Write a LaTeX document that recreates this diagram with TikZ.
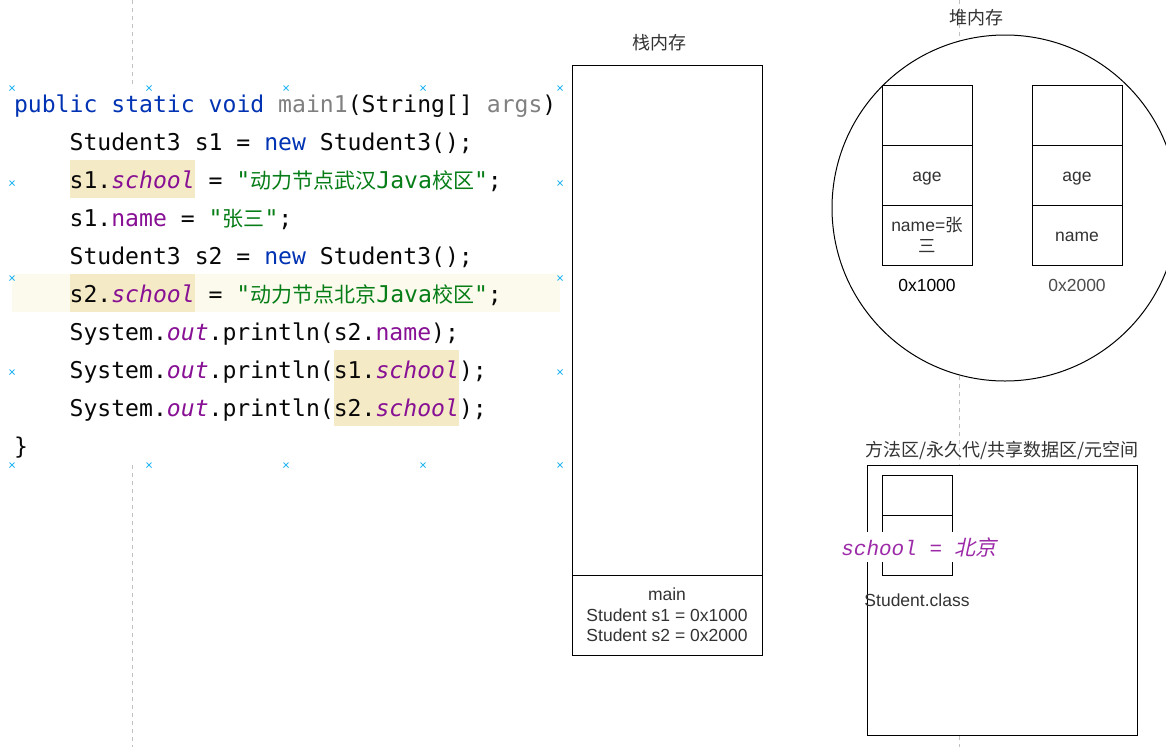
\documentclass[tikz,border=0pt]{standalone}
\usepackage{fontspec}
\setmainfont{Liberation Sans}
\newfontfamily\codef{DejaVu Sans Mono}
\newfontfamily\cjk{Noto Sans CJK SC}
\newfontfamily\cjki[FakeSlant=0.22]{Noto Sans CJK SC}
\newfontfamily\libsans{Liberation Sans}
\newfontfamily\libmono{Liberation Mono}
\definecolor{kwblue}{HTML}{0033B3}
\definecolor{fieldp}{HTML}{871094}
\definecolor{strg}{HTML}{067D17}
\definecolor{grayc}{HTML}{808080}
\definecolor{codeblk}{HTML}{080808}
\definecolor{hlword}{HTML}{F5EAC6}
\definecolor{hlline}{HTML}{FCFAEC}
\definecolor{handle}{HTML}{29B6F2}
\definecolor{guide}{HTML}{C0C0C0}
\definecolor{dtext}{HTML}{333333}
\definecolor{schoolp}{HTML}{9C2AA8}
\newcommand\ckw[1]{\textcolor{kwblue}{#1}}
\newcommand\cfld[1]{\textcolor{fieldp}{#1}}
\newcommand\cfldi[1]{\textcolor{fieldp}{\itshape #1}}
\newcommand\cstr[1]{\textcolor{strg}{#1}}
\newcommand\cgr[1]{\textcolor{grayc}{#1}}
\newcommand\ccj[1]{{\cjk\fontsize{21}{38}\selectfont #1}}
\newcommand\dfont{\libsans\fontsize{17.5}{20.5}\selectfont}
\tikzset{
  codeline/.style={anchor=base west, inner sep=0, outer sep=0, text=codeblk,
    font=\codef\fontsize{23.1}{38}\selectfont},
  cell/.style={draw=black, line width=1, fill=white, inner sep=0, outer sep=0,
    align=center, text=dtext, font=\dfont},
  onecell/.style={cell, text height=17, text depth=4},
  lbl/.style={inner sep=0, outer sep=0, align=center, text=dtext, font=\dfont},
  ttl/.style={inner sep=0, outer sep=0, text=dtext, font=\cjk\fontsize{18}{20}\selectfont},
  hnd/.style={draw=handle, line width=0.9},
  guideline/.style={draw=guide, line width=1, dash pattern=on 4pt off 4pt},
}
\begin{document}
\begin{tikzpicture}[x=1pt,y=-1pt]
\useasboundingbox[fill=white] (0,0) rectangle (1166,747);
% guide lines
\draw[guideline] (132,0) -- (132,88);
\draw[guideline] (132,465) -- (132,747);
\draw[guideline] (959,0) -- (959,747);
% highlights
\fill[hlline] (12,274) rectangle (560,312);
\fill[hlword] (69.6,160) rectangle (194.7,198);
\fill[hlword] (69.6,274) rectangle (194.7,312);
\fill[hlword] (333.7,350) rectangle (458.8,426);
% code
\node[codeline] (l1) at (14,112) {\ckw{public static void} \cgr{main1}(String[] \cgr{args})};
\node[codeline] (l2) at (69.6,150) {Student3 s1 = \ckw{new} Student3();};
\node[codeline] (l3) at (69.6,188) {s1.\cfldi{school} = \cstr{"\ccj{动力节点武汉}Java\ccj{校区}"};};
\node[codeline] (l4) at (69.6,226) {s1.\cfld{name} = \cstr{"\ccj{张三}"};};
\node[codeline] (l5) at (69.6,264) {Student3 s2 = \ckw{new} Student3();};
\node[codeline] (l6) at (69.6,302) {s2.\cfldi{school} = \cstr{"\ccj{动力节点北京}Java\ccj{校区}"};};
\node[codeline] (l7) at (69.6,340) {System.\cfldi{out}.println(s2.\cfld{name});};
\node[codeline] (l8) at (69.6,378) {System.\cfldi{out}.println(s1.\cfldi{school});};
\node[codeline] (l9) at (69.6,416) {System.\cfldi{out}.println(s2.\cfldi{school});};
\node[codeline] (l10) at (14,454) {\}};
% selection handles
\foreach \hx/\hy in {12/88,149/88,286/88,423/88,560/88,12/183,560/183,12/278,560/278,12/372,560/372,12/465,149/465,286/465,423/465,560/465}{
  \draw[hnd] (\hx-2.5,\hy-2.5) -- (\hx+2.5,\hy+2.5) (\hx-2.5,\hy+2.5) -- (\hx+2.5,\hy-2.5);
}
% stack
\node[ttl] (stacktitle) at (659,43) {栈内存};
\node[cell, minimum width=190, minimum height=510] (stackfree) at (667,320) {};
\node[cell, minimum width=190, minimum height=80] (stackmain) at (667,615) {main\\Student s1 = 0x1000\\Student s2 = 0x2000};
% heap
\node[ttl] (heaptitle) at (976,18) {堆内存};
\node[circle, draw=black, line width=1, fill=white, minimum size=346, inner sep=0] (heap) at (1005,208) {};
\node[cell, minimum width=90, minimum height=60] (a1) at (927,115) {};
\node[onecell, minimum width=90, minimum height=60] (a2) at (927,175) {age};
\node[cell, minimum width=90, minimum height=60] (a3) at (927,235) {name=\cjk{张}\\\cjk{三}};
\node[cell, minimum width=90, minimum height=60] (b1) at (1077,115) {};
\node[onecell, minimum width=90, minimum height=60] (b2) at (1077,175) {age};
\node[onecell, minimum width=90, minimum height=60] (b3) at (1077,235) {name};
\node[lbl, text=black] (addr1) at (927,285) {0x1000};
\node[lbl, text=black!70] (addr2) at (1077,285) {0x2000};
% method area
\node[ttl] (mtitle) at (1002,450) {方法区/永久代/共享数据区/元空间};
\node[cell, minimum width=270, minimum height=270] (marea) at (1002,600) {};
\node[cell, minimum width=70, minimum height=40] (c1) at (917,495) {};
\node[cell, minimum width=70, minimum height=60] (c2) at (917,545) {};
\node[fill=white, inner xsep=1, inner ysep=0, minimum height=30, text=schoolp,
  font=\libmono\itshape\fontsize{21}{24}\selectfont] (school) at (919,547) {school = {\cjki 北京}};
\node[lbl] (sclass) at (917,600) {Student.class};
\end{tikzpicture}
\end{document}
